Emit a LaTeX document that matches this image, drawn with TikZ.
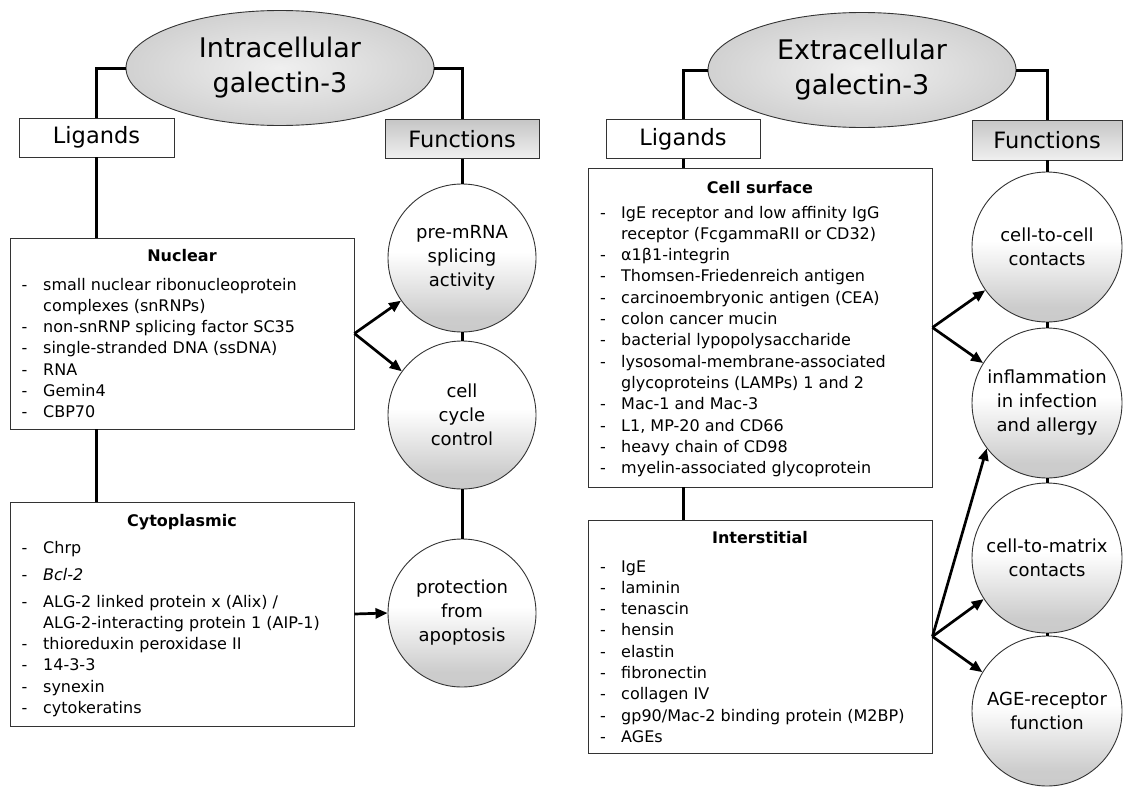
\documentclass[tikz,border=0pt]{standalone}
\usepackage{fontspec}
\setmainfont{DejaVu Sans}
\usetikzlibrary{shapes.geometric,arrows.meta}
\pgfdeclareverticalshading{circsh}{100bp}{color(0bp)=(gray!45); color(30bp)=(gray!40); color(52bp)=(white); color(100bp)=(white)}
\pgfdeclareverticalshading{funsh}{100bp}{color(0bp)=(gray!12); color(25bp)=(gray!12); color(75bp)=(gray!45); color(100bp)=(gray!45)}
\tikzset{
  tree/.style={line width=3pt, black},
  arr/.style={line width=2.7pt, black, -{Triangle[length=12pt,width=10pt]}},
  ell/.style={ellipse, draw=black!80, line width=0.9pt, inner color=gray!12, outer color=gray!36,
    minimum width=308pt, minimum height=115pt, inner sep=0pt, align=center,
    font=\fontsize{27}{35}\selectfont},
  ligbox/.style={rectangle, draw=black!80, line width=0.9pt, fill=white, inner sep=0pt,
    minimum height=39pt, font=\fontsize{22.5}{26}\selectfont},
  funbox/.style={ligbox, shading=funsh},
  lbox/.style={rectangle, draw=black!80, line width=0.9pt, fill=white, inner sep=0pt},
  hdr/.style={anchor=base, inner sep=0pt, font=\fontsize{16}{20}\selectfont\bfseries},
  lst/.style={anchor=base west, inner sep=0pt, font=\fontsize{16}{21.3}\selectfont},
  fn/.style={circle, draw=black!80, line width=0.9pt, shading=circsh, inner sep=0pt,
    minimum size=148pt, align=center, font=\fontsize{18}{24}\selectfont},
}
\begin{document}
\begin{tikzpicture}[x=1pt,y=-1pt]
\useasboundingbox (0,0) rectangle (1129,787);
\fill[white] (0,0) rectangle (1129,787);

%%%%%%%% LEFT: intracellular
\node[ell] (ellL) at (280,68) {Intracellular\\galectin-3};
\node[ligbox, minimum width=155pt] (ligL) at (96.5,137.5) {Ligands};
\node[funbox, minimum width=154pt] (funL) at (462,139) {Functions};
\node[lbox, minimum width=344pt, minimum height=191pt] (nuc) at (182,333.5) {};
\node[lbox, minimum width=344pt, minimum height=224pt] (cyt) at (182,614) {};
\node[fn] (pre) at (462,258) {pre-mRNA\\splicing\\activity};
\node[fn] (cc) at (462,415) {cell\\cycle\\control};
\node[fn] (prot) at (462,613) {protection\\from\\apoptosis};

\node[hdr] (nucH) at (182,261) {Nuclear};
\node[lst] (nucT) at (21.5,290) {\begin{tabular}[t]{@{}p{21.5pt}@{}l@{}}
- & small nuclear ribonucleoprotein\\
  & complexes (snRNPs)\\
- & non-snRNP splicing factor SC35\\
- & single-stranded DNA (ssDNA)\\
- & RNA\\
- & Gemin4\\
- & CBP70
\end{tabular}};

\node[hdr] (cytH) at (182,526) {Cytoplasmic};
\node[lst] (cytT) at (21.5,553) {\begin{tabular}[t]{@{}p{21.5pt}@{}l@{}}
- & Chrp\\[5.7pt]
- & \textit{Bcl-2}\\[5.7pt]
- & ALG-2 linked protein x (Alix) /\\
  & ALG-2-interacting protein 1 (AIP-1)\\
- & thioreduxin peroxidase II\\
- & 14-3-3\\
- & synexin\\
- & cytokeratins
\end{tabular}};

\draw[tree] (ellL.west) -| (ligL.north);
\draw[tree] (ellL.east) -| (funL.north);
\draw[tree] (ligL.south) -- (ligL.south |- nuc.north);
\draw[tree] (ligL.south |- nuc.south) -- (ligL.south |- cyt.north);
\draw[tree] (funL.south) -- (pre.north);
\draw[tree] (pre.south) -- (cc.north);
\draw[tree] (cc.south) -- (prot.north);
\draw[arr] (nuc.east) -- (pre.215);
\draw[arr] (nuc.east) -- (cc.144);
\draw[arr] (cyt.east) -- (prot.west);

%%%%%%%% RIGHT: extracellular
\node[ell] (ellR) at (862,70) {Extracellular\\galectin-3};
\node[ligbox, minimum width=154pt] (ligR) at (683,139) {Ligands};
\node[funbox, minimum width=150pt, minimum height=40pt] (funR) at (1047,140) {Functions};
\node[lbox, minimum width=344pt, minimum height=319pt] (cs) at (760,327.5) {};
\node[lbox, minimum width=344pt, minimum height=233pt] (int) at (760,636.5) {};
\node[fn, minimum size=150pt] (c2c) at (1047,247) {cell-to-cell\\contacts};
\node[fn, minimum size=150pt] (inf) at (1047,403) {inflammation\\in infection\\and allergy};
\node[fn, minimum size=150pt] (c2m) at (1047,558) {cell-to-matrix\\contacts};
\node[fn, minimum size=150pt] (age) at (1047,711) {AGE-receptor\\function};

\node[hdr] (csH) at (760,193) {Cell surface};
\node[lst] (csT) at (600,218) {\begin{tabular}[t]{@{}p{21pt}@{}l@{}}
- & IgE receptor and low affinity IgG\\
  & receptor (FcgammaRII or CD32)\\
- & α1β1-integrin\\
- & Thomsen-Friedenreich antigen\\
- & carcinoembryonic antigen (CEA)\\
- & colon cancer mucin\\
- & bacterial lypopolysaccharide\\
- & lysosomal-membrane-associated\\
  & glycoproteins (LAMPs) 1 and 2\\
- & Mac-1 and Mac-3\\
- & L1, MP-20 and CD66\\
- & heavy chain of CD98\\
- & myelin-associated glycoprotein
\end{tabular}};

\node[hdr] (intH) at (760,543) {Interstitial};
\node[lst] (intT) at (600,572) {\begin{tabular}[t]{@{}p{21pt}@{}l@{}}
- & IgE\\
- & laminin\\
- & tenascin\\
- & hensin\\
- & elastin\\
- & fibronectin\\
- & collagen IV\\
- & gp90/Mac-2 binding protein (M2BP)\\
- & AGEs
\end{tabular}};

\draw[tree] (ellR.west) -| (ligR.north);
\draw[tree] (ellR.east) -| (funR.north);
\draw[tree] (ligR.south) -- (ligR.south |- cs.north);
\draw[tree] (ligR.south |- cs.south) -- (ligR.south |- int.north);
\draw[tree] (funR.south) -- (c2c.north);
\draw[tree] (c2c.south) -- (inf.north);
\draw[tree] (inf.south) -- (c2m.north);
\draw[tree] (c2m.south) -- (age.north);
\draw[arr] (cs.east) -- (c2c.215);
\draw[arr] (cs.east) -- (inf.148);
\draw[arr] (int.east) -- (inf.217);
\draw[arr] (int.east) -- (c2m.213);
\draw[arr] (int.east) -- (age.149);
\end{tikzpicture}
\end{document}
